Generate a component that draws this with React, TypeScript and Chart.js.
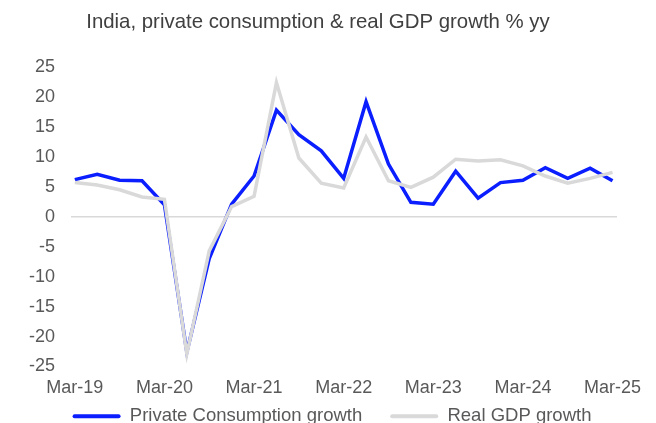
import React, { useEffect, useRef } from "react";
import { Chart, registerables } from "chart.js";

Chart.register(...registerables);

const TITLE = "India, private consumption & real GDP growth % yy";

const quarters = [
  "Mar-19", "Jun-19", "Sep-19", "Dec-19",
  "Mar-20", "Jun-20", "Sep-20", "Dec-20",
  "Mar-21", "Jun-21", "Sep-21", "Dec-21",
  "Mar-22", "Jun-22", "Sep-22", "Dec-22",
  "Mar-23", "Jun-23", "Sep-23", "Dec-23",
  "Mar-24", "Jun-24", "Sep-24", "Dec-24",
  "Mar-25",
];

const privateConsumption = [
  6.2, 7.1, 6.1, 6.0,
  2.0, -22.6, -7.0, 2.1,
  6.8, 17.8, 13.7, 11.0,
  6.4, 19.2, 8.8, 2.4,
  2.1, 7.6, 3.1, 5.7,
  6.1, 8.2, 6.4, 8.1,
  6.0,
];

const realGdp = [
  5.7, 5.3, 4.5, 3.3,
  2.9, -22.9, -5.7, 1.7,
  3.4, 22.4, 9.8, 5.6,
  4.8, 13.3, 6.0, 4.9,
  6.6, 9.6, 9.3, 9.5,
  8.5, 6.8, 5.6, 6.4,
  7.4,
];

const xTickIndexes = [0, 4, 8, 12, 16, 20, 24];
const yTicks = [-25, -20, -15, -10, -5, 0, 5, 10, 15, 20, 25];

const FONT = "Arial, 'Liberation Sans', sans-serif";
const TEXT = "#595959";
const BLUE = "#0a1eff";
const GRAY = "#d9d9d9";

const TITLE_DX = 9.5;
const LEGEND_DX = 23.5;
const X_AXIS_H = 34;
const LEGEND_H = 22.5;
const LEGEND_TOP = 379;

const layoutPlugin = {
  id: "layoutTweaks",
  beforeLayout(chart: any) {
    const l = chart.legend;
    if (l && !l.__patched) {
      const orig = l.fit.bind(l);
      l.fit = function () {
        orig();
        this.height = LEGEND_H;
      };
      l.__patched = true;
    }
  },
  afterLayout(chart: any) {
    const t = chart.titleBlock;
    if (t) {
      t.left += TITLE_DX;
      t.right += TITLE_DX;
    }
    const l = chart.legend;
    if (l) {
      l.left += LEGEND_DX;
      l.right += LEGEND_DX;
      l.top = LEGEND_TOP;
      l.bottom = chart.height;
      l.height = l.bottom - l.top;
    }
  },
};

export default function App() {
  const ref = useRef<HTMLCanvasElement>(null);

  useEffect(() => {
    const chart = new Chart(ref.current as HTMLCanvasElement, {
      type: "line",
      data: {
        datasets: [
          {
            label: "Private Consumption growth",
            data: privateConsumption.map((y, i) => ({ x: i, y })),
            borderColor: BLUE,
            backgroundColor: BLUE,
            borderWidth: 3.5,
            pointRadius: 0,
            tension: 0,
            order: 1,
          },
          {
            label: "Real GDP growth",
            data: realGdp.map((y, i) => ({ x: i, y })),
            borderColor: GRAY,
            backgroundColor: GRAY,
            borderWidth: 3.5,
            pointRadius: 0,
            tension: 0,
            order: 0,
          },
        ],
      },
      options: {
        animation: false,
        responsive: true,
        maintainAspectRatio: false,
        layout: { padding: { left: 0, right: 39, top: 0, bottom: 0 } },
        plugins: {
          title: {
            display: true,
            text: TITLE,
            color: "#404040",
            font: { family: FONT, size: 20.4, weight: "normal" },
            padding: { top: 10, bottom: 32.5 },
          },
          legend: {
            position: "bottom",
            labels: {
              boxWidth: 48,
              boxHeight: 4,
              padding: 28,
              color: TEXT,
              font: { family: FONT, size: 18.5 },
              sort: (a: any, b: any) => a.datasetIndex - b.datasetIndex,
              generateLabels: (c: any) =>
                (Chart.defaults.plugins.legend.labels as any)
                  .generateLabels(c)
                  .map((l: any) => ({ ...l, lineWidth: 0, borderRadius: 2 })),
            },
          },
          tooltip: { enabled: false },
        },
        scales: {
          x: {
            type: "linear",
            min: -0.17,
            max: 24.2,
            afterBuildTicks: (s: any) => {
              s.ticks = xTickIndexes.map((v) => ({ value: v }));
            },
            afterFit: (s: any) => {
              s.height = X_AXIS_H;
            },
            grid: { display: false, drawTicks: false },
            border: { display: false },
            ticks: {
              padding: 11,
              color: TEXT,
              font: { family: FONT, size: 18 },
              maxRotation: 0,
              autoSkip: false,
              callback: (v: any) => quarters[v] ?? "",
            },
          },
          y: {
            min: -25,
            max: 25,
            afterBuildTicks: (s: any) => {
              s.ticks = yTicks.map((v) => ({ value: v }));
            },
            afterFit: (s: any) => {
              s.width = 71;
            },
            grid: {
              drawTicks: false,
              lineWidth: 1.5,
              color: (ctx: any) => (ctx.tick && ctx.tick.value === 0 ? GRAY : "rgba(0,0,0,0)"),
            },
            border: { display: false },
            ticks: {
              padding: 16,
              color: TEXT,
              font: { family: FONT, size: 18 },
            },
          },
        },
      },
      plugins: [layoutPlugin],
    } as any);
    return () => chart.destroy();
  }, []);

  return (
    <div style={{ position: "fixed", left: 0, top: 0, width: 656, height: 423, background: "#fff" }}>
      <canvas ref={ref} />
    </div>
  );
}
